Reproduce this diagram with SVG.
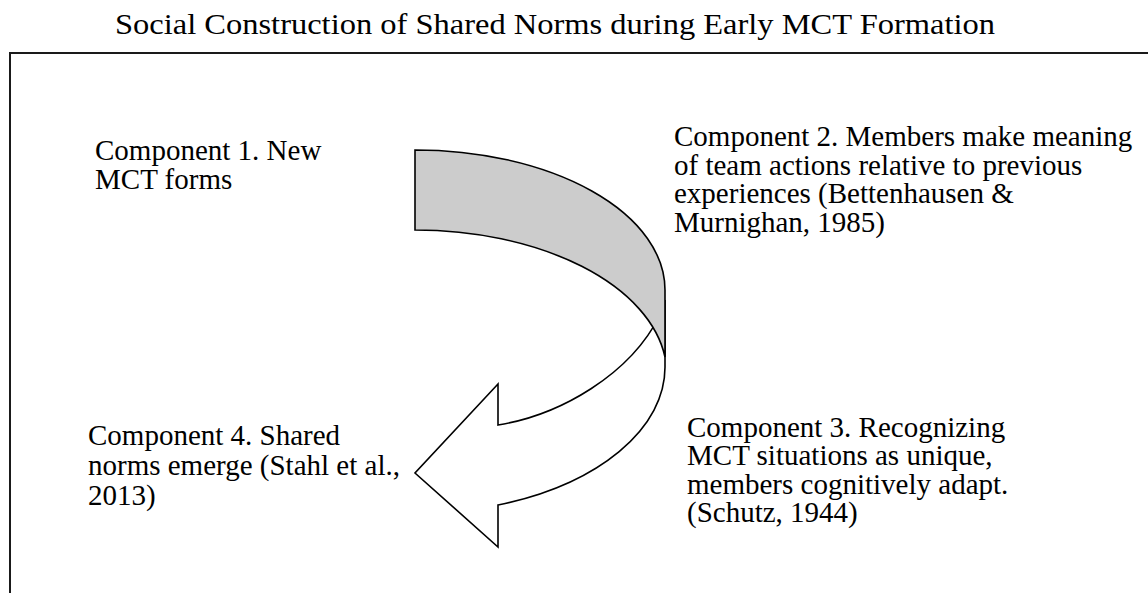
<svg xmlns="http://www.w3.org/2000/svg" width="1148" height="593" viewBox="0 0 1148 593">
<style>
text{font-family:"Liberation Serif","Times New Roman",serif;fill:#000}
.t{font-size:29px}
.title{font-size:30px}
.frame{fill:none;stroke:#1a1a1a;stroke-width:2}
.arrow{stroke:#000;stroke-width:1.6;stroke-linejoin:miter}
</style>
<rect width="1148" height="593" fill="#fff"/>
<text class="title" x="115" y="34" textLength="880" lengthAdjust="spacingAndGlyphs">Social Construction of Shared Norms during Early MCT Formation</text>
<path class="frame" d="M10,593 L10,53 L1148,53"/>
<g id="connectors">
<path id="arrow-white" class="arrow" fill="#fff" d="M498,384 L498,425 C560,415 630,375 660,315 L665,300 L665,367 A250,146 0 0 1 498,505 L498,547 L415,473 Z"/>
<path id="arrow-gray" class="arrow" fill="#cccccc" d="M415,150 A250,140 0 0 1 665,290 L665,357 A252,145 0 0 0 415,230 Z"/>
</g>
<g id="component1">
<text class="t" x="95" y="160">Component 1. New</text>
<text class="t" x="95" y="189">MCT forms</text>
</g>
<g id="component2">
<text class="t" x="674" y="146">Component 2. Members make meaning</text>
<text class="t" x="674" y="175">of team actions relative to previous</text>
<text class="t" x="674" y="203">experiences (Bettenhausen &amp;</text>
<text class="t" x="674" y="232">Murnighan, 1985)</text>
</g>
<g id="component3">
<text class="t" x="687" y="437">Component 3. Recognizing</text>
<text class="t" x="687" y="465">MCT situations as unique,</text>
<text class="t" x="687" y="494">members cognitively adapt.</text>
<text class="t" x="687" y="522">(Schutz, 1944)</text>
</g>
<g id="component4">
<text class="t" x="88" y="445">Component 4. Shared</text>
<text class="t" x="88" y="475">norms emerge (Stahl et al.,</text>
<text class="t" x="88" y="505">2013)</text>
</g>
</svg>
